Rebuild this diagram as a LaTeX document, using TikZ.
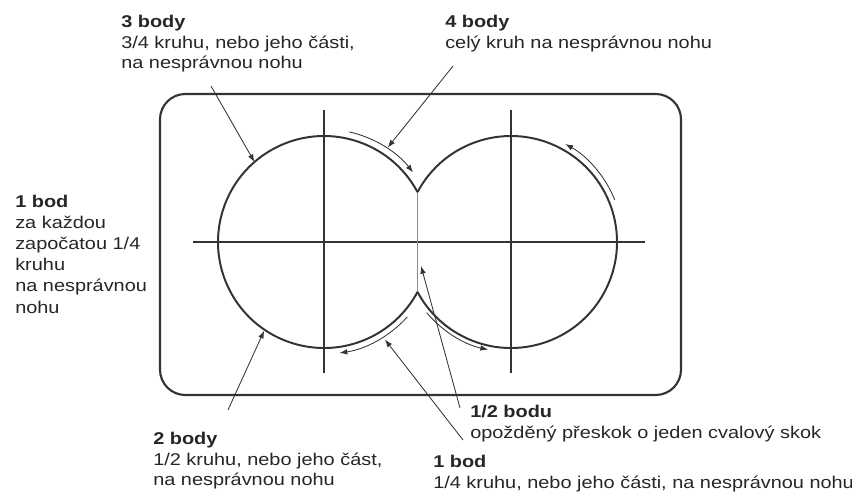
\documentclass[tikz,border=0pt]{standalone}
\usepackage{fontspec}
\setmainfont{Liberation Sans}[FakeStretch=1.17]
\usetikzlibrary{arrows.meta,calc}
\definecolor{ink}{gray}{0.2}
\tikzset{
  frame/.style={line width=1.5pt, draw=ink, rounded corners=18pt},
  axis/.style={line width=1.4pt, draw=ink},
  rim/.style={line width=1.4pt, draw=ink},
  seam/.style={line width=0.5pt, draw=black!45},
  motion/.style={line width=0.6pt, draw=ink, -{Latex[length=5.5pt,width=4pt]}},
  pointer/.style={line width=0.6pt, draw=ink, -{Latex[length=5.5pt,width=4pt]}},
  note/.style={anchor=north west, inner sep=0pt, align=left, text=black!85, font=\fontsize{12.1}{14.5}\selectfont},
}

\begin{document}
\begin{tikzpicture}[x=0.025cm, y=0.025cm]
\useasboundingbox (0,0) rectangle (852,-494);
\coordinate (L) at (324,-242);
\coordinate (R) at (511,-242);
\coordinate (cusptop) at ($(L)+(28.1:106)$);
\coordinate (cuspbot) at ($(L)+(-28.1:106)$);
% frame and axes
\draw[frame] (160,-94) rectangle (681,-395);
\draw[axis] (193,-242) -- (645,-242);
\draw[axis] (324,-110) -- (324,-373);
\draw[axis] (511,-110) -- (511,-373);
\draw[seam] (cusptop) -- (cuspbot);
% the two circles
\draw[rim] (cusptop) arc[start angle=28.1, end angle=331.9, radius=106];
\draw[rim] (cusptop) arc[start angle=151.9, end angle=-151.9, radius=106];
% direction of travel
\draw[motion] ($(L)+(77:113)$) arc[start angle=77, end angle=38, radius=113];
\draw[motion] ($(R)+(22:112)$) arc[start angle=22, end angle=61, radius=112];
\draw[motion] ($(L)+(-42:112)$) arc[start angle=-42, end angle=-82, radius=112];
\draw[motion] ($(R)+(-140:110)$) arc[start angle=-140, end angle=-102, radius=110];
% labels
\node[note] (body3) at (121,-15) {\textbf{3 body}\\3/4 kruhu, nebo jeho části,\\na nesprávnou nohu};
\node[note] (body4) at (445,-15) {\textbf{4 body}\\celý kruh na nesprávnou nohu};
\node[note, font=\fontsize{12.1}{15}\selectfont] (bodleft) at (15,-195) {\textbf{1 bod}\\za každou\\započatou 1/4\\kruhu\\na nesprávnou\\nohu};
\node[note] (body2) at (153,-432) {\textbf{2 body}\\1/2 kruhu, nebo jeho část,\\na nesprávnou nohu};
\node[note] (bodhalf) at (470,-405) {\textbf{1/2 bodu}\\opožděný přeskok o jeden cvalový skok};
\node[note] (bodbottom) at (433,-455) {\textbf{1 bod}\\1/4 kruhu, nebo jeho části, na nesprávnou nohu};
% pointers
\coordinate (body3tail) at (211,-86);
\coordinate (body3head) at ($(L)+(131:106)$);
\coordinate (body4tail) at (453,-66);
\coordinate (body4head) at ($(L)+(56:114)$);
\coordinate (body2tail) at (228,-410);
\coordinate (body2head) at ($(L)+(236:107)$);
\coordinate (bodhalftail) at (460,-408);
\coordinate (bodhalfhead) at (421,-266);
\coordinate (bodbottomtail) at (463,-440);
\coordinate (bodbottomhead) at ($(L)+(-58:115)$);
\draw[pointer] (body3tail) -- (body3head);
\draw[pointer] (body4tail) -- (body4head);
\draw[pointer] (body2tail) -- (body2head);
\draw[pointer] (bodhalftail) -- (bodhalfhead);
\draw[pointer] (bodbottomtail) -- (bodbottomhead);
\end{tikzpicture}
\end{document}
